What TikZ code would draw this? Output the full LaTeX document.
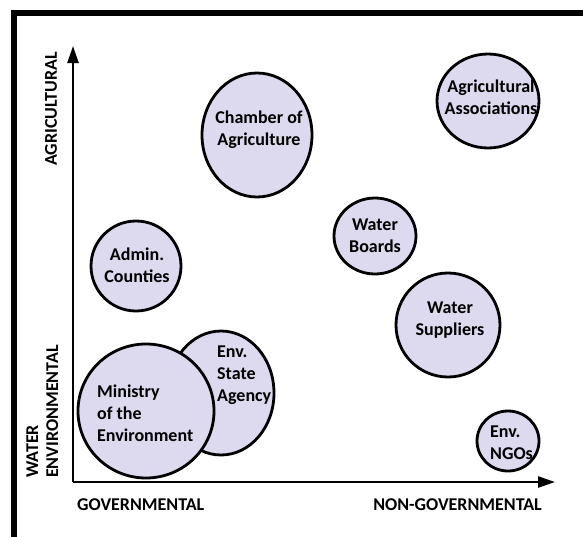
\documentclass[tikz,border=0pt]{standalone}
\usepackage{fontspec}
\setmainfont{Carlito}
\usetikzlibrary{arrows.meta}
\definecolor{lav}{RGB}{221,217,238}
\begin{document}
\begin{tikzpicture}[x=1pt,y=-1pt,
  actor/.style={draw=black,line width=2.8pt,fill=lav},
  lbl/.style={font=\fontsize{18}{22}\selectfont\bfseries,inner sep=0pt,align=center},
  lbll/.style={font=\fontsize{18}{22}\selectfont\bfseries,inner sep=0pt,align=left},
  axl/.style={font=\fontsize{18}{20}\selectfont\bfseries,inner sep=0pt},
  axis/.style={line width=2.4pt,-{Triangle[width=11pt,length=17pt]}}]
\useasboundingbox (0,0) rectangle (583,536);
% frame
\draw[line width=6pt] (13.5,540) -- (13.5,13) -- (590,13);
% axes
\coordinate (o) at (73,482);
\coordinate (ytip) at (73,46);
\coordinate (xtip) at (555,482);
\draw[axis] (o) -- (ytip);
\draw[axis] (o) -- (xtip);
% actors (circles)
\path[actor] (257,135) ellipse [x radius=55,y radius=62];
\node[lbl] (cha) at (259,130) {Chamber of\\Agriculture};
\path[actor] (488,101) ellipse [x radius=51,y radius=47];
\node[lbl] (aga) at (491,97) {Agricultural\\Associations};
\path[actor] (375,236) ellipse [x radius=41,y radius=38];
\node[lbl] (wb) at (375,236) {Water\\Boards};
\path[actor] (136,266) ellipse [x radius=45,y radius=45];
\node[lbl] (adm) at (137,265) {Admin.\\Counties};
\path[actor] (448,325) ellipse [x radius=52,y radius=52];
\node[lbl] (ws) at (450,320) {Water\\Suppliers};
\path[actor] (221,393) ellipse [x radius=53,y radius=62];
\node[lbll,anchor=west] (esa) at (217,375) {Env.\\State\\Agency};
\path[actor] (146,411) ellipse [x radius=68,y radius=67];
\node[lbll,anchor=west] (min) at (97,413) {Ministry\\of the\\Environment};
\path[actor] (508,441) ellipse [x radius=31,y radius=30];
\node[lbll,anchor=west] (ngo) at (490,443) {Env.\\NGOs};
% axis labels
\node[axl,anchor=west] (gov) at (77,505) {GOVERNMENTAL};
\node[axl,anchor=east] (ngov) at (542,505) {NON-GOVERNMENTAL};
\node[axl,rotate=90] (agr) at (51,109) {AGRICULTURAL};
\node[axl,rotate=90,align=left,anchor=south west] (wat) at (58.5,478) {WATER\\ENVIRONMENTAL};
\end{tikzpicture}
\end{document}
